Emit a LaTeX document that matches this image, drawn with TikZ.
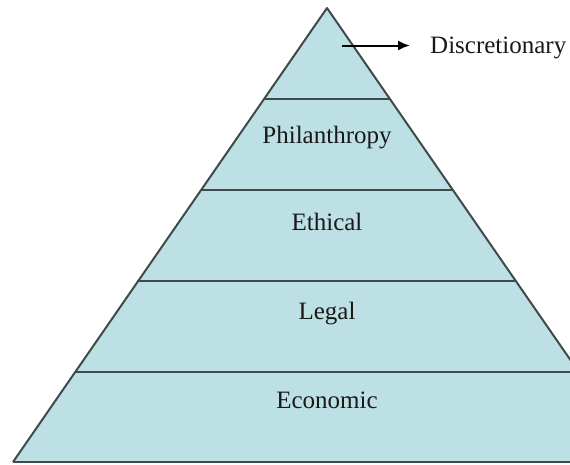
\documentclass[tikz,border=0pt]{standalone}
\usepackage{fontspec}
\setmainfont{Liberation Serif}
\usetikzlibrary{arrows.meta}
\definecolor{layerfill}{HTML}{BDE0E4}
\definecolor{layerline}{HTML}{3F4A4A}
\tikzset{
  label text/.style={font=\fontsize{25}{30}\selectfont, text=black!90, inner sep=0pt, anchor=base},
  layer edge/.style={draw=layerline, line width=2pt},
}
\begin{document}
\begin{tikzpicture}[x=1pt, y=-1pt]
  \useasboundingbox (0,0) rectangle (570,464);
  \begin{scope}
    \clip (0,0) rectangle (570,464);
    % pyramid body
    \coordinate (apex) at (327,8);
    \coordinate (bl) at (13,462);
    \coordinate (br) at (641,462);
    \fill[layerfill] (apex) -- (bl) -- (br) -- cycle;
    % horizontal dividers between the layers
    \foreach \yy in {98.5,189.5,281,372,462} {
      \pgfmathsetmacro{\half}{0.69163*(\yy-8)}
      \draw[layer edge] (327-\half,\yy) -- (327+\half,\yy);
    }
    \draw[layer edge, line join=round] (bl) -- (apex) -- (br);
  \end{scope}
  % layer labels
  \node[label text] (phil) at (327,143.5) {Philanthropy};
  \node[label text] (eth) at (327,230) {Ethical};
  \node[label text] (leg) at (327,319) {Legal};
  \node[label text] (eco) at (327,408.5) {Economic};
  % top layer callout
  \node[label text, anchor=base west] (disc) at (430,53.5) {Discretionary};
  \coordinate (top) at (342,45.5);
  \draw[line width=2pt, -{Latex[length=12pt,width=10pt]}] (top) -- ([xshift=-20pt]disc.west |- top);
\end{tikzpicture}
\end{document}
